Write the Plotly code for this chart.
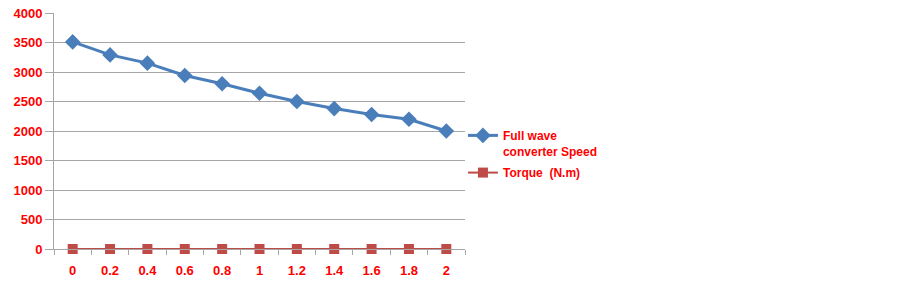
import plotly.graph_objects as go

categories = ["0", "0.2", "0.4", "0.6", "0.8", "1", "1.2", "1.4", "1.6", "1.8", "2"]
speed = [3510, 3290, 3150, 2940, 2800, 2640, 2500, 2380, 2280, 2200, 2000]
torque = [0, 0, 0, 0, 0, 0, 0, 0, 0, 0, 0]
y_ticks = [0, 500, 1000, 1500, 2000, 2500, 3000, 3500, 4000]

blue = "#4A7EBB"
red = "#BE4B48"
font_fam = "Liberation Sans"

fig = go.Figure()
fig.add_trace(go.Scatter(
    x=categories, y=speed, name="Full wave<br>converter Speed",
    mode="lines+markers", legendgroup="a",
    line=dict(color=blue, width=3),
    marker=dict(symbol="diamond", size=12, color=blue),
    cliponaxis=False,
))
fig.add_trace(go.Scatter(
    x=categories, y=torque, name="Torque  (N.m)",
    mode="lines+markers", legendgroup="b",
    line=dict(color=red, width=2),
    marker=dict(symbol="square", size=10, color=red),
    cliponaxis=False,
))

fig.update_layout(
    width=903, height=284,
    margin=dict(l=54, r=438, t=13, b=35, autoexpand=False),
    paper_bgcolor="white", plot_bgcolor="white",
    font=dict(family=font_fam, color="#FF0000", size=12),
    showlegend=True,
    hovermode=False,
    legend=dict(
        x=0.995, y=0.542, xanchor="left", yanchor="top",
        valign="top", tracegroupgap=3,
        font=dict(family=font_fam, size=12, color="#FF0000", weight="bold"),
        bgcolor="rgba(0,0,0,0)",
    ),
)
fig.update_xaxes(
    type="category", range=[-0.5, len(categories) - 0.5],
    tickvals=categories, ticktext=["<b>%s</b>" % c for c in categories],
    showgrid=False, showline=True, linecolor="#A6A6A6", linewidth=1,
    ticks="outside", tickson="boundaries", ticklen=5, tickcolor="#A6A6A6",
    tickfont=dict(family=font_fam, size=13, color="#FF0000"),
    ticklabelstandoff=9, automargin=False, ticklabeloverflow="allow",
    zeroline=False,
)
fig.update_yaxes(
    range=[0, 4000], tickvals=y_ticks, ticktext=["<b>%d</b>" % v for v in y_ticks],
    showgrid=True, gridcolor="#A6A6A6", gridwidth=1,
    showline=True, linecolor="#A6A6A6", linewidth=1, mirror=False,
    ticks="outside", ticklen=8, tickcolor="#A6A6A6",
    tickfont=dict(family=font_fam, size=13, color="#FF0000"),
    automargin=False, ticklabeloverflow="allow",
    zeroline=False,
)

fig.write_html(
    "out.html",
    config={"displayModeBar": False},
    post_script="document.body.style.margin='0';document.body.style.overflow='hidden';",
)
